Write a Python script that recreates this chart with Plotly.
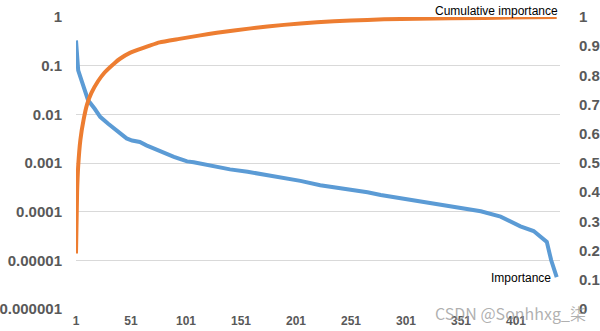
import plotly.graph_objects as go

# Importance (left, log axis): feature rank -> importance
imp_idx = [1, 2, 3, 6, 9, 12, 18, 23, 30, 38, 47, 52, 59, 65, 71, 80, 90,
           96, 102, 108, 114, 120, 141, 157, 181, 190, 205, 223, 248, 266, 278, 305,
           320, 351, 369, 387, 405, 417, 429, 433, 435, 438]
imp_val = [0.33, 0.1, 0.08, 0.05, 0.031, 0.0195, 0.013, 0.0089, 0.0065, 0.0047,
           0.0032, 0.0029, 0.0027, 0.0023, 0.002, 0.0017, 0.00134,
           0.0012, 0.00108, 0.00104, 0.00098, 0.0009, 0.00074, 0.00066, 0.00054,
           0.0005, 0.00043, 0.00035, 0.00029, 0.00025, 0.00022, 0.000174, 0.000158,
           0.00012, 0.000102, 0.000079, 0.00005, 0.00004, 0.000024, 0.00001,
           0.0000074, 0.0000045]

# Cumulative importance (right, linear axis)
cum_idx = [1, 2, 3, 5, 8, 11, 15, 21, 27, 36, 41, 50, 59, 68, 77, 95, 114, 129, 160,
           190, 220, 251, 281, 311, 372, 438]
cum_val = [0.19, 0.40, 0.49, 0.58, 0.65, 0.70, 0.74, 0.78, 0.81, 0.842, 0.857, 0.877,
           0.89, 0.902, 0.913, 0.925, 0.937, 0.946, 0.961, 0.973, 0.982, 0.988, 0.992,
           0.994, 0.997, 1.0]

x_ticks = [1, 51, 101, 151, 201, 251, 301, 351, 401]
left_ticks = [1, 0.1, 0.01, 0.001, 0.0001, 0.00001, 0.000001]
left_labels = ["1", "0.1", "0.01", "0.001", "0.0001", "0.00001", "0.000001"]
right_ticks = [0, 0.1, 0.2, 0.3, 0.4, 0.5, 0.6, 0.7, 0.8, 0.9, 1]
right_labels = ["0", "0.1", "0.2", "0.3", "0.4", "0.5", "0.6", "0.7", "0.8", "0.9", "1"]

BLUE = "#5B9BD5"
ORANGE = "#ED7D31"
LABEL = "#595959"
TICKFONT = dict(family="Liberation Sans, Arial, sans-serif", size=15, color=LABEL, weight="bold")
NOTEFONT = dict(family="Liberation Sans, Arial, sans-serif", size=12, color="#000000")

fig = go.Figure()
fig.add_trace(go.Scatter(x=imp_idx, y=imp_val, mode="lines", name="Importance",
                         line=dict(color=BLUE, width=4), yaxis="y"))
fig.add_trace(go.Scatter(x=cum_idx, y=cum_val, mode="lines", name="Cumulative importance",
                         line=dict(color=ORANGE, width=4, shape="spline", smoothing=0.5),
                         yaxis="y2"))

fig.update_layout(
    width=600, height=331,
    margin=dict(l=76, r=40, t=17, b=22, pad=0),
    paper_bgcolor="white", plot_bgcolor="white",
    showlegend=False,
    xaxis=dict(range=[1, 441], tickvals=x_ticks, ticktext=[str(v) for v in x_ticks],
               showgrid=False, zeroline=False, showline=False, ticks="", automargin=False,
               tickfont=dict(family="Liberation Sans, Arial, sans-serif", size=12,
                             color=LABEL, weight="bold"),
               ticklabelstandoff=3),
    yaxis=dict(type="log", range=[-6, 0], tickvals=left_ticks, ticktext=left_labels,
               showgrid=True, gridcolor="#d9d9d9", gridwidth=1, zeroline=False,
               showline=False, ticks="", tickfont=TICKFONT, ticklabelstandoff=13,
               automargin=False),
    yaxis2=dict(range=[0, 1], tickvals=right_ticks, ticktext=right_labels,
                overlaying="y", side="right", showgrid=False, zeroline=False,
                showline=False, ticks="", tickfont=TICKFONT, ticklabelstandoff=18,
                automargin=False),
    annotations=[
        dict(text="Cumulative importance", xref="paper", yref="paper", x=1.0, y=1.0,
             xanchor="right", yanchor="bottom", showarrow=False, yshift=-3,
             font=NOTEFONT),
        dict(text="Importance", xref="paper", yref="paper", x=(553 - 76) / 484,
             y=(309 - 278) / 292, xanchor="right", yanchor="middle", showarrow=False,
             font=NOTEFONT),
        dict(text="CSDN @Sonhhxg_柒", xref="paper", yref="paper", x=1.0, y=0,
             xanchor="left", yanchor="middle", xshift=-127, yshift=-4, showarrow=False,
             font=dict(family="Noto Sans CJK SC, sans-serif", size=16,
                       color="rgba(150,150,150,0.75)")),
    ],
)

fig.write_html("out.html")
